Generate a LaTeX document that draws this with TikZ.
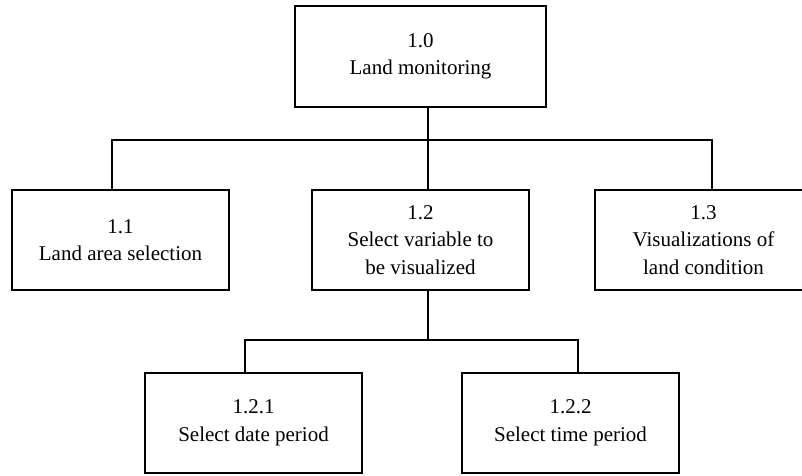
\documentclass[tikz,border=0pt]{standalone}
\usepackage{fontspec}
\setmainfont{Liberation Serif}
\begin{document}
\begin{tikzpicture}[x=1pt,y=-1pt,
  box/.style={draw,line width=1.6pt,rectangle,minimum width=217pt,minimum height=100pt,
    align=center,inner sep=0pt,font=\fontsize{21}{27.5}\selectfont},
  link/.style={line width=1.6pt}]
\useasboundingbox (0,0) rectangle (802,475);
\node[box,minimum width=251pt,minimum height=101pt] (n10) at (420.5,56.5) {1.0\\Land monitoring};
\node[box] (n11) at (120.5,240) {1.1\\Land area selection};
\node[box] (n12) at (420.5,240) {1.2\\Select variable to\\be visualized};
\node[box] (n13) at (703.5,240) {1.3\\Visualizations of\\land condition};
\node[box] (n121) at (253.5,423) {1.2.1\\Select date period};
\node[box] (n122) at (570.5,423) {1.2.2\\Select time period};
\coordinate (bus1) at (428,140);
\coordinate (bus2) at (428,340);
\draw[link] ([xshift=7.5pt]n10.south) -- ([xshift=7.5pt]n12.north);
\draw[link] ([xshift=-8.5pt]n11.north) |- (bus1) -| ([xshift=8.5pt]n13.north);
\draw[link] ([xshift=7.5pt]n12.south) -- (bus2);
\draw[link] ([xshift=-8.5pt]n121.north) |- (bus2) -| ([xshift=7.5pt]n122.north);
\end{tikzpicture}
\end{document}
